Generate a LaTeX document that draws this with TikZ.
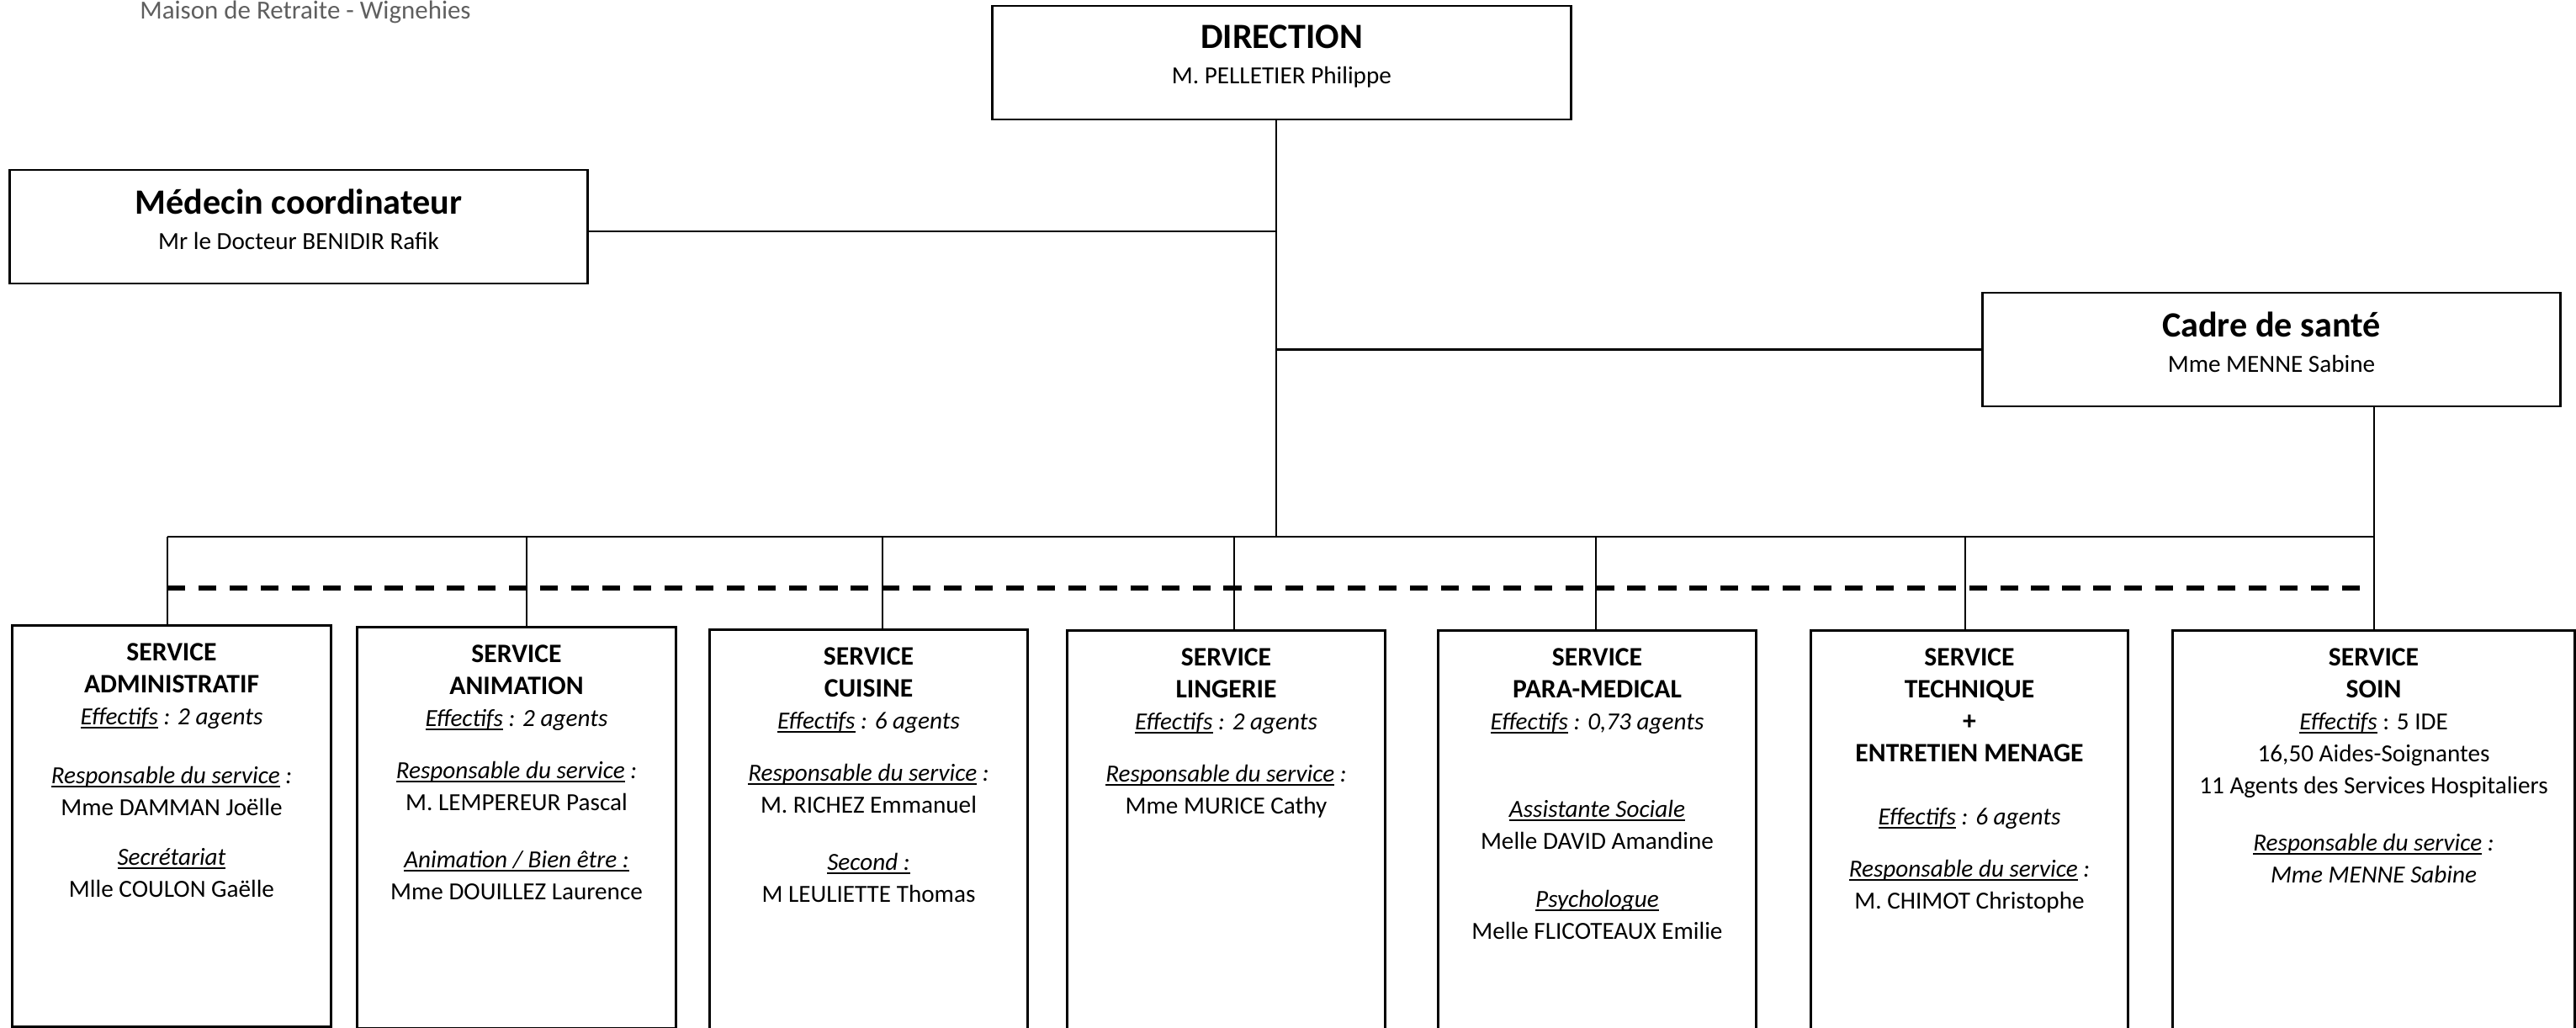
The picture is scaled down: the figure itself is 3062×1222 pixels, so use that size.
\documentclass[tikz,border=0pt]{standalone}
\usepackage{fontspec}
\setmainfont{Carlito}
\usetikzlibrary{positioning}
\definecolor{grisTitre}{RGB}{95,95,95}
\newsavebox{\soulbox}
\newcommand{\souligne}[1]{\sbox{\soulbox}{#1}\rlap{\rule[-1.3pt]{\wd\soulbox}{0.45pt}}\usebox{\soulbox}}
\newcommand{\titreserv}[1]{{\fontsize{9}{10.8}\selectfont\bfseries #1}}
\newcommand{\titrechef}[1]{{\fontsize{12}{14}\selectfont\bfseries #1}}
\newcommand{\resp}{\textit{\souligne{Responsable du service} :}}

\begin{document}
\begin{tikzpicture}[x=0.01cm, y=-0.01cm,
  chef/.style={draw, line width=0.8pt, minimum width=6.87cm, minimum height=1.35cm},
  servbox/.style={draw, line width=0.8pt, anchor=north west, minimum height=4.77cm},
  texte/.style={anchor=north, inner sep=0pt, align=center, font=\fontsize{8.3}{10.8}\selectfont},
  trait/.style={line width=0.6pt}]
\clip (0,0) rectangle (3062,1222);
\node[text=grisTitre, font=\fontsize{8.8}{10}\selectfont] (maison) at (363,14) {Maison de Retraite - Wignehies};

% direction, medecin, cadre
\node[chef] (dir) at (1523.5,74.5) {};
\node[texte, below=0.24cm of dir.north] (dirtxt) {\titrechef{DIRECTION}\\[1pt] M. PELLETIER Philippe};
\node[chef] (med) at (355,269.5) {};
\node[texte, below=0.24cm of med.north] (medtxt) {\titrechef{Médecin coordinateur}\\[1pt] Mr le Docteur BENIDIR Rafik};
\node[chef] (cadre) at (2700,415.5) {};
\node[texte, below=0.24cm of cadre.north] (cadretxt) {\titrechef{Cadre de santé}\\[1pt] Mme MENNE Sabine};

% les services
\foreach \nom/\x/\y/\l in {admin/13/742/3.79, anim/423/744/3.79, cuisine/842/747/3.78, lingerie/1267/748/3.78, para/1708/748/3.78, tech/2151/748/3.77, soin/2581/748/4.78}
\node[servbox, minimum width=\l cm] (\nom) at (\x,\y) {};

\node[texte, below=0.22cm of admin.north] (admintxt) {\titreserv{SERVICE}\\ \titreserv{ADMINISTRATIF}\\ \textit{\souligne{Effectifs} : 2 agents}\\[0.32cm]
  \resp\\ Mme DAMMAN Joëlle\\[0.21cm] \textit{\souligne{Secrétariat}}\\ Mlle COULON Gaëlle};
\node[texte, below=0.22cm of anim.north] (animtxt) {\titreserv{SERVICE}\\ \titreserv{ANIMATION}\\ \textit{\souligne{Effectifs} : 2 agents}\\[0.24cm]
  \resp\\ M. LEMPEREUR Pascal\\[0.30cm] \textit{\souligne{Animation / Bien être :}}\\ Mme DOUILLEZ Laurence};
\node[texte, below=0.22cm of cuisine.north] (cuisinetxt) {\titreserv{SERVICE}\\ \titreserv{CUISINE}\\ \textit{\souligne{Effectifs} : 6 agents}\\[0.24cm]
  \resp\\ M. RICHEZ Emmanuel\\[0.30cm] \textit{\souligne{Second :}}\\ M LEULIETTE Thomas};
\node[texte, below=0.22cm of lingerie.north] (lingerietxt) {\titreserv{SERVICE}\\ \titreserv{LINGERIE}\\ \textit{\souligne{Effectifs} : 2 agents}\\[0.24cm]
  \resp\\ Mme MURICE Cathy};
\node[texte, below=0.22cm of para.north] (paratxt) {\titreserv{SERVICE}\\ \titreserv{PARA-MEDICAL}\\ \textit{\souligne{Effectifs} : 0,73 agents}\\[0.66cm]
  \textit{\souligne{Assistante Sociale}}\\ Melle DAVID Amandine\\[0.31cm] \textit{\souligne{Psychologue}}\\ Melle FLICOTEAUX Emilie};
\node[texte, below=0.22cm of tech.north] (techtxt) {\titreserv{SERVICE}\\ \titreserv{TECHNIQUE}\\ \titreserv{+}\\ \titreserv{ENTRETIEN MENAGE}\\[0.37cm]
  \textit{\souligne{Effectifs} : 6 agents}\\[0.24cm] \resp\\ M. CHIMOT Christophe};
\node[texte, below=0.22cm of soin.north] (sointxt) {\titreserv{SERVICE}\\ \titreserv{SOIN}\\ \textit{\souligne{Effectifs}} : 5 IDE\\ 16,50 Aides-Soignantes\\
  11 Agents des Services Hospitaliers\\[0.30cm] \resp\\ \textit{Mme MENNE Sabine}};

% liaisons
\coordinate (bus) at (0,638);
\coordinate (tirets) at (0,699);
\coordinate (dirbas) at ([xshift=-0.065cm]dir.south);
\coordinate (medlien) at ([yshift=-0.055cm]med.east);
\draw[trait] (dirbas) -- (dirbas |- bus);
\draw[trait] (medlien) -- (medlien -| dirbas);
\draw[trait] (cadre.west) -- (cadre.west -| dirbas);
\draw[trait] (soin.north |- cadre.south) -- (soin.north);
\foreach \nom/\x in {admin/199, anim/626, cuisine/1049, lingerie/1467, para/1897, tech/2336} % points de descente
{\coordinate (\nom-haut) at (\x,638);
\draw[trait] (\nom-haut) -- (\nom-haut |- \nom.north);}
\draw[trait] (admin-haut) -- (admin-haut -| soin.north);
\draw[line width=1.7pt, dash pattern=on 6pt off 4.5pt] (admin-haut |- tirets) -- (tirets -| soin.north);
\end{tikzpicture}
\end{document}
